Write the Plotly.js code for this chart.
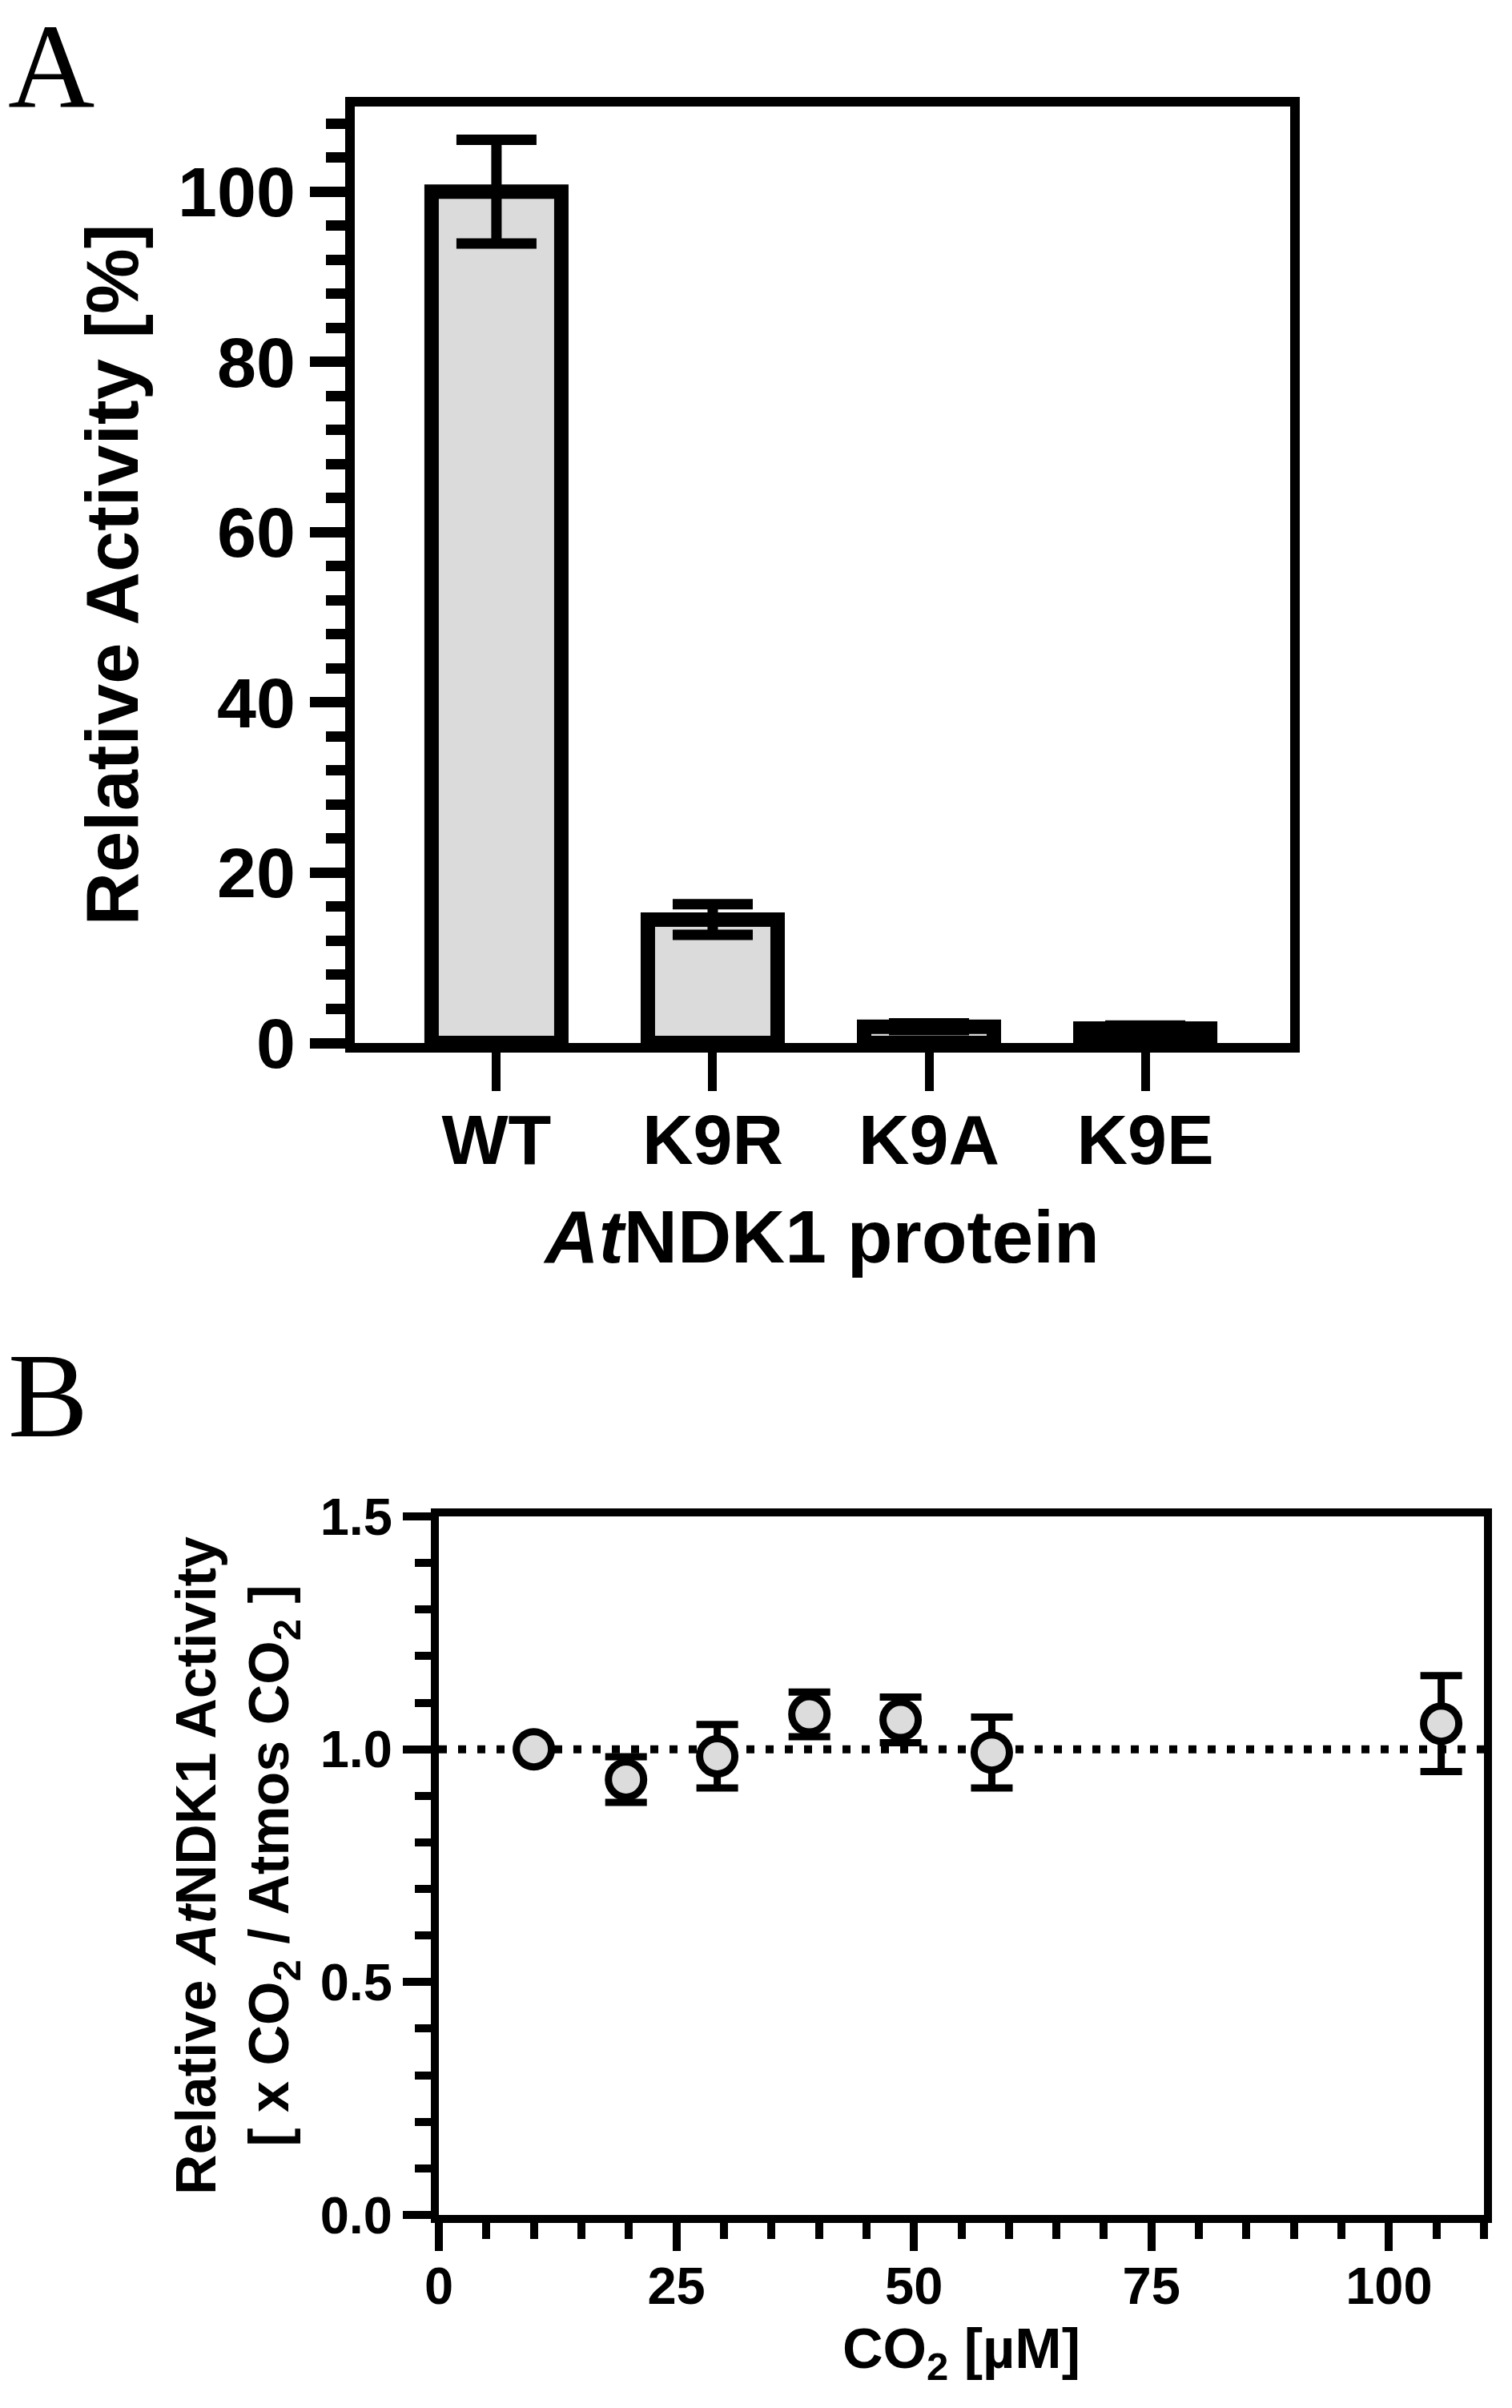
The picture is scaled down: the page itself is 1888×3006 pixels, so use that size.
<!DOCTYPE html>
<html><head><meta charset="utf-8">
<script src="https://cdn.plot.ly/plotly-3.0.1.min.js"></script>
<style>html,body{margin:0;padding:0;background:#fff}</style>
</head><body>
<div id="chart" style="width:1888px;height:3006px"></div>
<script>
// ---- Panel A data ----
const proteins = ['WT', 'K9R', 'K9A', 'K9E'];
const activityPct = [100, 14.5, 1.9, 1.7];
const activityErr = [6.1, 1.8, 0.4, 0.35];

// ---- Panel B data ----
const co2uM = [10, 19.7, 29.3, 39, 48.6, 58.2, 105.5];
const relActivity = [1.0, 0.935, 0.985, 1.075, 1.063, 0.993, 1.055];
const relActivityErr = [0, 0.049, 0.068, 0.048, 0.049, 0.076, 0.103];
const referenceLevel = 1.0;

const SANS = 'Arial, "Liberation Sans", Helvetica, sans-serif';
const SERIF = '"Times New Roman", "Liberation Serif", serif';
const BAR_FILL = '#dbdbdb';

const traces = [
  {
    type: 'bar', x: proteins, y: activityPct, xaxis: 'x', yaxis: 'y',
    width: 0.6,
    marker: {color: BAR_FILL, line: {color: '#000', width: 18}},
    error_y: {type: 'data', array: activityErr, visible: true, color: '#000', thickness: 13, width: 50},
    hoverinfo: 'x+y', showlegend: false
  },
  {
    type: 'scatter', mode: 'markers', x: co2uM, y: relActivity, xaxis: 'x2', yaxis: 'y2',
    marker: {symbol: 'circle', size: 44, color: '#dcdcdc', line: {color: '#000', width: 9}},
    error_y: {type: 'data', array: relActivityErr, visible: true, color: '#000', thickness: 9, width: 26},
    cliponaxis: false, showlegend: false
  }
];

const W = 1888, H = 3006;
const axLine = {showline: true, linecolor: '#000', mirror: true, showgrid: false, zeroline: false};

const layout = {
  width: W, height: H,
  margin: {l: 0, r: 0, t: 0, b: 0},
  paper_bgcolor: '#fff', plot_bgcolor: '#fff',
  font: {family: SANS, color: '#000'},
  showlegend: false,
  bargap: 0.4,
  xaxis: Object.assign({}, axLine, {
    domain: [442.5 / W, 1611 / W], anchor: 'y',
    type: 'category', range: [-0.657, 3.67],
    linewidth: 12, ticks: 'outside', ticklen: 48, tickwidth: 11, tickcolor: '#000',
    ticklabelstandoff: -15,
    tickfont: {family: SANS, size: 88, weight: 'bold'},
    title: {text: '<i>At</i>NDK1 protein', font: {family: SANS, size: 93, weight: 'bold'}, standoff: 45}
  }),
  yaxis: Object.assign({}, axLine, {
    domain: [1 - 1302 / H, 1 - 133 / H], anchor: 'x',
    range: [0, 110], tickmode: 'linear', tick0: 0, dtick: 20,
    linewidth: 12, ticks: 'outside', ticklen: 44, tickwidth: 13, tickcolor: '#000',
    minor: {tickmode: 'linear', tick0: 0, dtick: 4, ticks: 'outside', ticklen: 24, tickwidth: 13, tickcolor: '#000', showgrid: false},
    tickfont: {family: SANS, size: 88, weight: 'bold'},
    title: {text: 'Relative Activity [%]', font: {family: SANS, size: 92, weight: 'bold'}, standoff: 24}
  }),
  xaxis2: Object.assign({}, axLine, {
    domain: [548 / W, 1853 / W], anchor: 'y2',
    range: [0, 110], tickmode: 'linear', tick0: 0, dtick: 25,
    linewidth: 10, ticks: 'outside', ticklen: 35, tickwidth: 10, tickcolor: '#000',
    ticklabelstandoff: -12,
    minor: {tickmode: 'linear', tick0: 0, dtick: 5, ticks: 'outside', ticklen: 20, tickwidth: 10, tickcolor: '#000', showgrid: false},
    tickfont: {family: SANS, size: 65, weight: 'bold'},
    title: {text: 'CO<sub>2</sub> [µM]', font: {family: SANS, size: 70, weight: 'bold'}, standoff: 22}
  }),
  yaxis2: Object.assign({}, axLine, {
    domain: [1 - 2765 / H, 1 - 1893 / H], anchor: 'x2',
    range: [0, 1.5], tickmode: 'linear', tick0: 0, dtick: 0.5, tickformat: '.1f',
    linewidth: 10, ticks: 'outside', ticklen: 35, tickwidth: 10, tickcolor: '#000',
    minor: {tickmode: 'linear', tick0: 0, dtick: 0.1, ticks: 'outside', ticklen: 20, tickwidth: 10, tickcolor: '#000', showgrid: false},
    tickfont: {family: SANS, size: 65, weight: 'bold'},
    title: {text: 'Relative <i>At</i>NDK1 Activity<br>[ x CO<sub>2</sub> / Atmos CO<sub>2</sub> ]', font: {family: SANS, size: 70, weight: 'bold'}, standoff: 20}
  }),
  shapes: [
    {type: 'line', layer: 'below', xref: 'x2 domain', x0: 0, x1: 1, yref: 'y2', y0: referenceLevel, y1: referenceLevel,
     line: {color: '#000', width: 10, dash: '10px,14px'}}
  ],
  annotations: [
    {text: 'A', xref: 'paper', yref: 'paper', x: 8 / W, y: 1 + 3 / H, xanchor: 'left', yanchor: 'top', showarrow: false,
     font: {family: SERIF, size: 150, color: '#000'}},
    {text: 'B', xref: 'paper', yref: 'paper', x: 8 / W, y: 1 - 1657 / H, xanchor: 'left', yanchor: 'top', showarrow: false,
     font: {family: SERIF, size: 150, color: '#000'}}
  ]
};

Plotly.newPlot('chart', traces, layout, {displayModeBar: false, responsive: false});
</script>
</body></html>
